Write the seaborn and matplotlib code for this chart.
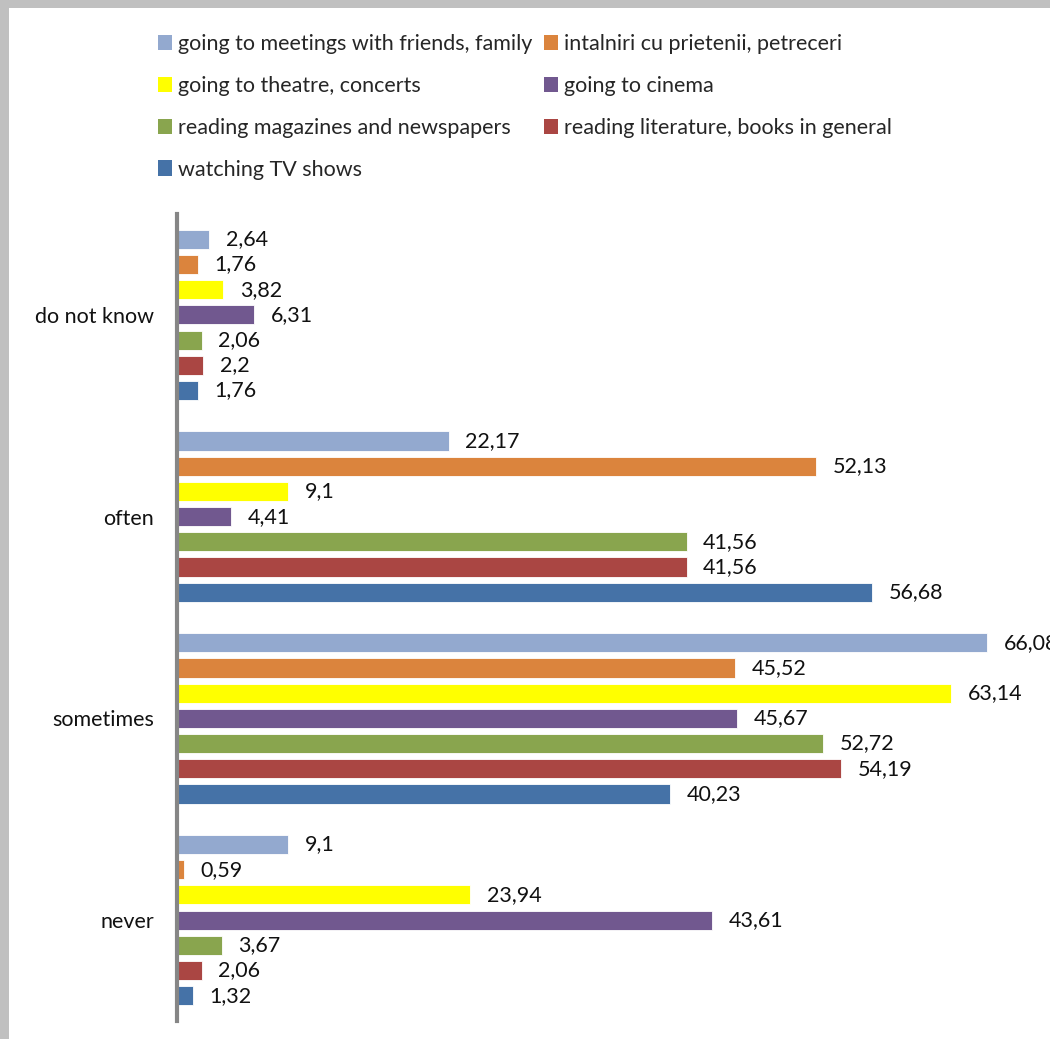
import matplotlib
matplotlib.use("Agg")
import matplotlib.pyplot as plt
from matplotlib.patches import Patch, Rectangle
import seaborn as sns
import pandas as pd

categories = ["do not know", "often", "sometimes", "never"]
series = [
    "going to meetings with friends, family",
    "intalniri cu prietenii, petreceri",
    "going to theatre, concerts",
    "going to cinema",
    "reading magazines and newspapers",
    "reading literature, books in general",
    "watching TV shows",
]
colors = ["#93A9CF", "#DB843D", "#FFFF00", "#71588F", "#89A54E", "#AA4643", "#4572A7"]

meetings = [2.64, 22.17, 66.08, 9.1]
intalniri = [1.76, 52.13, 45.52, 0.59]
theatre = [3.82, 9.1, 63.14, 23.94]
cinema = [6.31, 4.41, 45.67, 43.61]
magazines = [2.06, 41.56, 52.72, 3.67]
literature = [2.2, 41.56, 54.19, 2.06]
tv = [1.76, 56.68, 40.23, 1.32]
values = [meetings, intalniri, theatre, cinema, magazines, literature, tv]

rows = []
for name, vals in zip(series, values):
    for cat, v in zip(categories, vals):
        rows.append({"category": cat, "activity": name, "percent": v})
df = pd.DataFrame(rows)

sns.set_theme(style="white")
plt.rcParams["font.family"] = ["Lato", "DejaVu Sans"]
FS = 15.5

fig = plt.figure(figsize=(10.5, 10.39), dpi=100)
ax = fig.add_axes([176.5 / 1050, 18 / 1039, 859 / 1050, 807 / 1039])

sns.barplot(data=df, y="category", x="percent", hue="activity",
            order=categories, hue_order=series, palette=colors, saturation=1,
            orient="h", width=0.875, gap=0.24, ax=ax, legend=False,
            edgecolor="#FFFFFF", linewidth=0.6, errorbar=None)

for cont in ax.containers:
    labels = [f"{b.get_width():g}".replace(".", ",") for b in cont]
    ax.bar_label(cont, labels=labels, padding=12, fontsize=FS, color="#111111")

ax.set_xlim(0, 70)
ax.set_ylim(3.5, -0.5)
ax.set_xlabel("")
ax.set_ylabel("")
ax.set_xticks([])
ax.tick_params(axis="y", length=0, pad=16, labelsize=FS, labelcolor="#111111")
for s in ["top", "right", "bottom"]:
    ax.spines[s].set_visible(False)
ax.spines["left"].set_color("#868686")
ax.spines["left"].set_linewidth(3)

# Legend laid out row by row across two columns
order = [0, 2, 4, 6, 1, 3, 5]
handles = [Patch(facecolor=colors[i], edgecolor="none") for i in order]
fig.legend(handles, [series[i] for i in order], ncol=2, loc="upper left",
           bbox_to_anchor=(158 / 1050, 1 - 34 / 1039), frameon=False,
           fontsize=FS, handlelength=0.65, handleheight=0.75, handletextpad=0.3,
           labelspacing=1.02, columnspacing=0.5, borderaxespad=0, borderpad=0)

# gray frame strips along the top and left edges
fig.patches.append(Rectangle((0, 1 - 8 / 1039), 1, 8 / 1039, transform=fig.transFigure,
                             facecolor="#C0C0C0", edgecolor="none", zorder=-1))
fig.patches.append(Rectangle((0, 0), 9 / 1050, 1, transform=fig.transFigure,
                             facecolor="#C0C0C0", edgecolor="none", zorder=-1))

fig.savefig("out.png", dpi=100)
